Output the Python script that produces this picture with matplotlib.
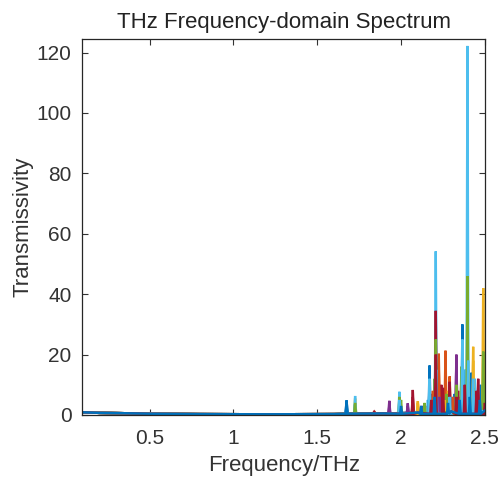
import numpy as np
import matplotlib
matplotlib.use("Agg")
import matplotlib.pyplot as plt

plt.rcParams['font.family'] = ['Liberation Sans', 'DejaVu Sans']

# MATLAB default colour order
colors = ['#0072BD', '#D95319', '#EDB120', '#7E2F8E', '#77AC30', '#4DBEEE', '#A2142F']

# shared baseline (frequency THz, transmissivity)
base_f = [0.10, 0.20, 0.35, 0.50, 0.80, 1.20, 1.60, 1.90, 2.10, 2.30, 2.50]
base_v = [0.9, 0.7, 0.6, 0.4, 0.3, 0.25, 0.3, 0.5, 0.8, 1.2, 1.5]
foot = 0.4

# peaks per series: (frequency, value)
peaks = [
    [(1.675, 4.8), (2.13, 3), (2.17, 10), (2.25, 6), (2.31, 5), (2.37, 8), (2.44, 9), (2.47, 4)],
    [(1.84, 1.3), (2.225, 20.3), (2.265, 21.3), (2.29, 12.8), (2.15, 3), (2.35, 6), (2.42, 7), (2.48, 5)],
    [(1.726, 5.5), (2.10, 4.6), (2.43, 22.6), (2.19, 6), (2.28, 8), (2.34, 4), (2.50, 9)],
    [(1.93, 4.7), (2.04, 3.9), (2.33, 20), (2.12, 3), (2.22, 9), (2.41, 11), (2.46, 6)],
    [(1.725, 3.5), (2.0, 5), (2.2, 12), (2.27, 7), (2.36, 14), (2.39, 10), (2.45, 8)],
    [(1.726, 6.3), (1.99, 7.7), (2.16, 5), (2.207, 54.2), (2.30, 6), (2.38, 15), (2.396, 122.2), (2.44, 12), (2.47, 10)],
    [(1.84, 1.0), (2.07, 8.3), (2.18, 7), (2.207, 34.5), (2.24, 10), (2.29, 11), (2.34, 8), (2.40, 9), (2.46, 12), (2.49, 7)],
    [(1.675, 4.8), (2.17, 16.4), (2.207, 18), (2.26, 5), (2.32, 7), (2.366, 30), (2.42, 14), (2.48, 10)],
    [(2.07, 4), (2.19, 8), (2.225, 15), (2.31, 6), (2.37, 10), (2.45, 6)],
    [(2.1, 4), (2.207, 12), (2.26, 5), (2.36, 8), (2.40, 15), (2.43, 18), (2.49, 42)],
    [(1.93, 3), (2.04, 3), (2.23, 6), (2.33, 18), (2.37, 5), (2.44, 7)],
    [(1.726, 4), (1.99, 6), (2.14, 4), (2.207, 25), (2.33, 10), (2.36, 16), (2.396, 46), (2.43, 9), (2.49, 21)],
    [(1.99, 5), (2.17, 12), (2.21, 15), (2.29, 6), (2.366, 25), (2.40, 18), (2.43, 12)],
    [(2.07, 6), (2.18, 5), (2.207, 20), (2.25, 9), (2.33, 6), (2.38, 10), (2.45, 8), (2.50, 4)],
    [(1.675, 3), (2.0, 3), (2.12, 3), (2.2, 6), (2.28, 4), (2.35, 5), (2.41, 6), (2.47, 5)],
]
half_width = 0.006

x_ticks = [0.5, 1, 1.5, 2, 2.5]
x_tick_labels = ['0.5', '1', '1.5', '2', '2.5']
y_ticks = [0, 20, 40, 60, 80, 100, 120]

fig = plt.figure(figsize=(5.03, 4.78), dpi=100)
ax = fig.add_axes([0.164, 0.1318, 0.800, 0.786])

for i, pk in enumerate(peaks):
    peak_f = [pf for pf, _ in pk]
    pts = [(bf, bv) for bf, bv in zip(base_f, base_v)
           if not any(abs(bf - pf) < half_width for pf in peak_f)]
    for f, v in pk:
        pts += [(f - half_width, foot), (f, v), (f + half_width, foot)]
    pts.sort()
    xs = [p[0] for p in pts]
    ys = [p[1] for p in pts]
    ax.plot(xs, ys, color=colors[i % len(colors)], lw=1.7, solid_joinstyle='miter')

ax.set_xlim(0.1, 2.5)
ax.set_ylim(0, 124.4)
ax.set_xticks(x_ticks)
ax.set_xticklabels(x_tick_labels)
ax.set_yticks(y_ticks)
ax.tick_params(direction='in', top=True, right=True, length=4, width=0.8,
               labelsize=15, colors='#333333')
ax.tick_params(axis='x', pad=10)
ax.tick_params(axis='y', pad=8)
for s in ax.spines.values():
    s.set_color('#262626')
    s.set_linewidth(0.9)

ax.set_xlabel('Frequency/THz', fontsize=16, color='#333333', labelpad=5)
ax.set_ylabel('Transmissivity', fontsize=16, color='#333333', labelpad=2)
ax.set_title('THz Frequency-domain Spectrum', fontsize=16, color='#222222', pad=8)

fig.savefig('out.png', dpi=100)
